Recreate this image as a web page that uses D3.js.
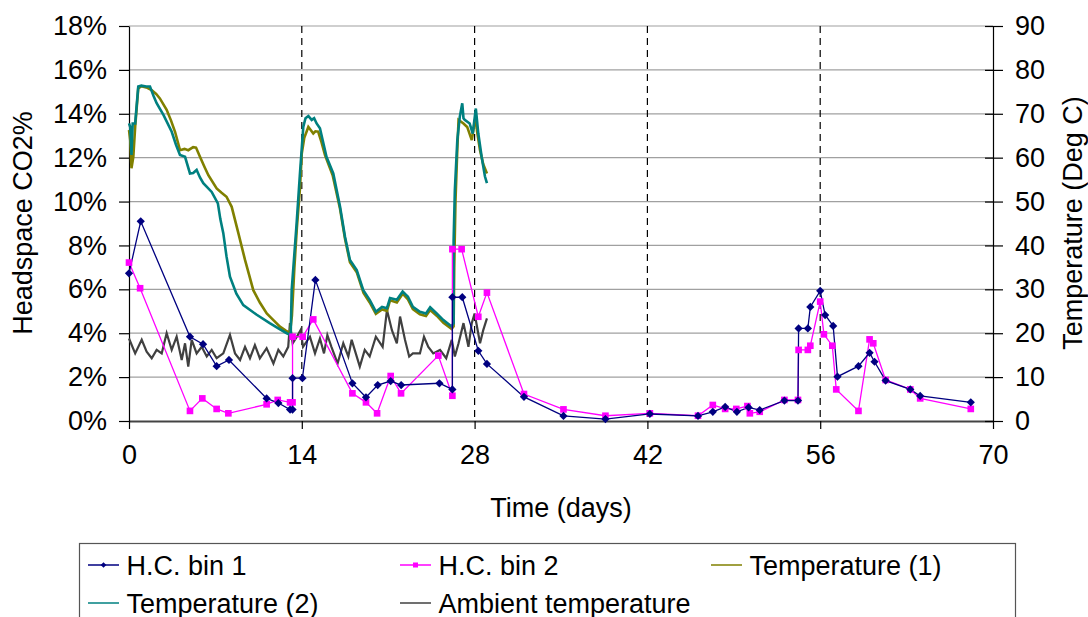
<!DOCTYPE html>
<html>
<head>
<meta charset="utf-8">
<script src="https://cdn.jsdelivr.net/npm/d3@7"></script>
<style>
  body { margin: 0; background: #fff; }
  svg { display: block; font-family: "Liberation Sans", Arial, sans-serif; }
</style>
</head>
<body>
<div id="chart"></div>
<script>
// H.C. bins: [day, headspace CO2 %]
const bin1 = [[0,6.73],[0.95,9.1],[4.94,3.84],[6.0,3.5],[7.1,2.5],[8.1,2.78],[11.15,1.03],[12.1,0.82],[13.05,0.52],[13.25,0.52],[13.25,1.95],[14.05,1.95],[15.1,6.43],[18.1,1.72],[19.2,1.08],[20.15,1.64],[21.2,1.82],[22.05,1.64],[25.15,1.72],[26.2,1.44],[26.2,5.64],[27.0,5.64],[28.3,3.2],[29.0,2.6],[32.0,1.1],[35.2,0.23],[38.6,0.09],[42.2,0.32],[46.1,0.23],[47.3,0.42],[48.3,0.64],[49.25,0.42],[50.2,0.62],[51.1,0.5],[53.1,0.93],[54.2,0.93],[54.25,4.22],[55.0,4.22],[55.2,5.2],[56.0,5.93],[56.4,4.83],[57.05,4.33],[57.4,2.02],[59.1,2.5],[60.0,3.11],[60.4,2.7],[61.3,1.84],[63.3,1.44],[64.1,1.14],[68.2,0.85]];
const bin2 = [[0,7.22],[0.9,6.05],[4.94,0.46],[5.94,1.03],[7.1,0.55],[8.05,0.35],[11.15,0.76],[12.05,0.96],[13.05,0.85],[13.25,0.85],[13.25,3.84],[14.07,3.84],[14.93,4.63],[18.1,1.26],[19.2,0.85],[20.1,0.35],[21.2,2.05],[22.04,1.26],[25.06,2.98],[26.2,1.15],[26.2,7.83],[26.95,7.83],[28.3,4.75],[29.0,5.85],[32.0,1.23],[35.2,0.53],[38.6,0.24],[42.2,0.35],[46.1,0.24],[47.3,0.73],[48.3,0.55],[49.2,0.55],[50.1,0.68],[50.3,0.35],[51.1,0.42],[53.1,0.96],[54.2,0.96],[54.25,3.24],[55.0,3.24],[55.2,3.43],[56.0,5.44],[56.3,3.95],[56.98,3.43],[57.3,1.44],[59.1,0.46],[60.0,3.72],[60.3,3.54],[61.3,1.87],[63.3,1.44],[64.1,1.03],[68.2,0.55]];

// temperatures: [day, deg C]
const temp1 = [[0,66.3],[0.1,64],[0.2,57.6],[0.35,60.2],[0.5,67],[0.75,75.8],[1.0,76.3],[1.4,76],[1.83,75.4],[2.2,74.5],[2.5,73.5],[3.05,70.9],[3.4,68.5],[3.73,65.9],[4.13,61.7],[4.5,62],[4.8,61.7],[5.2,62.4],[5.43,62.3],[5.75,60.2],[6.1,58],[6.43,56.0],[7.1,53.0],[7.5,52],[7.9,51.1],[8.32,48.8],[8.86,42.8],[9.4,36.7],[10.07,29.8],[10.6,27],[11.16,24.5],[11.7,23],[12.23,21.5],[12.7,20.6],[13.04,20.0],[13.2,24],[13.4,35],[13.6,44],[13.85,53],[14.0,61],[14.2,64.5],[14.53,67],[14.75,66.2],[14.93,65.5],[15.1,66],[15.33,65.9],[15.6,63.5],[15.88,60.6],[16.5,56],[17.1,48.3],[17.5,41.5],[17.9,36.2],[18.45,33.9],[19.0,29.2],[19.5,27],[20.0,24.4],[20.5,25.4],[20.9,25.1],[21.15,27.5],[21.7,27],[22.17,29],[22.6,27.7],[23.0,25.5],[23.57,24.3],[24.06,23.9],[24.4,25.3],[24.93,24],[25.47,22.4],[26.14,21.0],[26.3,21.6],[26.35,35],[26.45,50],[26.6,62],[26.7,68.6],[27.1,67.8],[27.4,67],[27.77,64.0],[28.0,68],[28.1,69.5],[28.2,66],[28.44,61.7],[28.7,58.5],[29.0,56.4]];
const temp2 = [[0,67.8],[0.1,67],[0.2,60.6],[0.3,67.8],[0.5,67.8],[0.75,76.2],[1.0,76.4],[1.4,76.2],[1.7,76.2],[2.0,74],[2.24,72.4],[2.8,69.7],[3.46,65.9],[3.8,63],[4.13,60.6],[4.54,60.2],[4.94,56.4],[5.2,56.5],[5.48,57.2],[5.75,55.5],[6.02,54.2],[6.7,52.2],[7.2,49.6],[7.4,46],[7.64,42.8],[7.9,37.5],[8.18,32.9],[8.7,29],[9.26,26.4],[10.35,24.2],[11.4,22.3],[12.1,21.1],[12.78,20.0],[13.1,19.6],[13.18,29.8],[13.58,45.0],[13.85,56.4],[14.12,67.0],[14.3,69],[14.53,69.5],[14.8,68.6],[15.0,69],[15.2,67.8],[15.47,66.7],[16.0,60.2],[16.55,56.4],[17.1,48.8],[17.5,42],[17.9,36.7],[18.45,34.4],[18.98,29.8],[19.5,27.6],[20.0,24.9],[20.5,26.0],[20.9,25.7],[21.15,28.0],[21.7,27.6],[22.17,29.5],[22.6,28.3],[23.0,26.0],[23.57,24.9],[24.06,24.5],[24.4,25.9],[24.93,24.5],[25.47,23.0],[26.14,21.5],[26.3,22.3],[26.3,41.2],[26.4,52.6],[26.6,64.0],[26.8,69.3],[27.0,72.4],[27.1,69],[27.2,68.6],[27.6,67.8],[27.85,65.5],[28.1,71.2],[28.3,65.5],[28.57,60.2],[28.84,55.7],[29.0,54.2]];
const ambient = [[0,18.8],[0.5,15.4],[1.03,18.5],[1.43,15.8],[1.84,14.3],[2.24,16.2],[2.65,15.4],[3.05,20.0],[3.46,16.2],[3.86,19.2],[4.27,13.9],[4.54,17.7],[4.8,12.4],[5.08,18.5],[5.48,15.4],[5.89,16.9],[6.3,14.7],[6.7,16.2],[7.1,14.3],[7.64,15.4],[8.18,19.6],[8.59,15.4],[9.0,13.9],[9.4,16.9],[9.8,14.3],[10.2,17.3],[10.6,14.3],[11.15,16.6],[11.7,13.1],[12.1,16.2],[12.5,14.7],[12.9,16.9],[13.04,22.3],[13.26,17.7],[13.6,19.2],[13.9,20.7],[14.1,16.9],[14.66,19.2],[15.07,15.4],[15.47,18.8],[15.8,15.4],[16.07,19.6],[16.4,16.9],[16.9,13.1],[17.36,17.7],[17.77,14.7],[18.04,18.5],[18.7,12.4],[19.1,16.2],[19.5,14.7],[20.0,19.2],[20.55,16.9],[20.9,25.3],[21.3,20.7],[21.7,17.7],[21.96,23.8],[22.36,18.5],[22.7,14.7],[23.0,15.4],[23.57,15.4],[23.9,19.2],[24.25,16.9],[24.65,15.4],[25.2,16.2],[25.7,14.3],[26.15,18.5],[26.4,14.7],[26.7,17.7],[27.1,22.3],[27.5,16.9],[27.77,22.3],[28.0,24.5],[28.44,17.7],[28.7,20.7],[29.0,23.4]];

const xTicks = [0, 14, 28, 42, 56, 70];
const dashedDays = [14, 28, 42, 56];
const co2Ticks = [0, 2, 4, 6, 8, 10, 12, 14, 16, 18];
const tempTicks = [0, 10, 20, 30, 40, 50, 60, 70, 80, 90];

const W = 1088, H = 617;
const plotLeft = 129, plotRight = 993, plotTop = 26, plotBottom = 421;
const font = 27;

const svg = d3.select("#chart").append("svg")
  .attr("width", W)
  .attr("height", H);

const x = d3.scaleLinear().domain([0, 70]).range([plotLeft, plotRight]);
const y = d3.scaleLinear().domain([0, 18]).range([plotBottom, plotTop]);
const yT = d3.scaleLinear().domain([0, 90]).range([plotBottom, plotTop]);

// gridlines
svg.append("g")
  .selectAll("line")
  .data(co2Ticks.slice(1))
  .join("line")
  .attr("x1", plotLeft).attr("x2", plotRight)
  .attr("y1", d => y(d)).attr("y2", d => y(d))
  .attr("stroke", "#a0a0a0")
  .attr("stroke-width", 1.2);

// dashed day markers
svg.append("g")
  .selectAll("line")
  .data(dashedDays)
  .join("line")
  .attr("x1", d => x(d)).attr("x2", d => x(d))
  .attr("y1", plotTop).attr("y2", plotBottom)
  .attr("stroke", "#000")
  .attr("stroke-width", 1.2)
  .attr("stroke-dasharray", "7,5");

// axes
const xAxis = svg.append("g")
  .attr("transform", `translate(0,${plotBottom})`)
  .call(d3.axisBottom(x).tickValues(xTicks).tickSize(8).tickPadding(16).tickSizeOuter(0));
const yAxis = svg.append("g")
  .attr("transform", `translate(${plotLeft},0)`)
  .call(d3.axisLeft(y).tickValues(co2Ticks).tickFormat(d => d + "%").tickSize(10).tickPadding(12).tickSizeOuter(0));
const yAxisR = svg.append("g")
  .attr("transform", `translate(${plotRight},0)`)
  .call(d3.axisRight(yT).tickValues(tempTicks).tickSize(10).tickPadding(12).tickSizeOuter(0));
yAxisR.selectAll(".tick line").attr("x1", -8);

[xAxis, yAxis, yAxisR].forEach(g => {
  g.selectAll("text").attr("font-size", font).attr("fill", "#000")
    .attr("font-family", "Liberation Sans, Arial, sans-serif");
  g.selectAll("line, path").attr("stroke", "#000").attr("stroke-width", 1.2);
});
xAxis.select(".domain").attr("stroke", "#444").attr("stroke-width", 2);

// titles
svg.append("text")
  .attr("x", 561).attr("y", 517)
  .attr("text-anchor", "middle")
  .attr("font-size", font)
  .text("Time (days)");
svg.append("text")
  .attr("transform", "translate(32,223) rotate(-90)")
  .attr("text-anchor", "middle")
  .attr("font-size", font)
  .text("Headspace CO2%");
svg.append("text")
  .attr("transform", "translate(1082,223) rotate(-90)")
  .attr("text-anchor", "middle")
  .attr("font-size", font)
  .text("Temperature (Deg C)");

// lines
const lineL = d3.line().x(d => x(d[0])).y(d => y(d[1]));
const lineT = d3.line().x(d => x(d[0])).y(d => yT(d[1]));

const plot = svg.append("g");
plot.append("path").datum(ambient).attr("d", lineT)
  .attr("fill", "none").attr("stroke", "#404040").attr("stroke-width", 2.2);
plot.append("path").datum(temp1).attr("d", lineT)
  .attr("fill", "none").attr("stroke", "#808000").attr("stroke-width", 2.6);
plot.append("path").datum(temp2).attr("d", lineT)
  .attr("fill", "none").attr("stroke", "#008080").attr("stroke-width", 2.6);

plot.append("path").datum(bin2).attr("d", lineL)
  .attr("fill", "none").attr("stroke", "#ff00ff").attr("stroke-width", 1.3);
plot.append("path").datum(bin1).attr("d", lineL)
  .attr("fill", "none").attr("stroke", "#000080").attr("stroke-width", 1.3);

const square = d3.symbol().type(d3.symbolSquare);

plot.append("g")
  .selectAll("path")
  .data(bin2)
  .join("path")
  .attr("d", square.size(44)())
  .attr("transform", d => `translate(${x(d[0])},${y(d[1])})`)
  .attr("fill", "#ff00ff");
plot.append("g")
  .selectAll("path")
  .data(bin1)
  .join("path")
  .attr("d", square.size(34)())
  .attr("transform", d => `translate(${x(d[0])},${y(d[1])}) rotate(45)`)
  .attr("fill", "#000080");

// legend
const legend = svg.append("g");
legend.append("rect")
  .attr("x", 79.5).attr("y", 543.5)
  .attr("width", 936).attr("height", 100)
  .attr("fill", "#fff").attr("stroke", "#555").attr("stroke-width", 1.2);

const legendItems = [
  { name: "H.C. bin 1", color: "#000080", mark: "diamond", lx: 88, ly: 565 },
  { name: "H.C. bin 2", color: "#ff00ff", mark: "square", lx: 400, ly: 565 },
  { name: "Temperature (1)", color: "#808000", mark: null, lx: 711, ly: 565 },
  { name: "Temperature (2)", color: "#008080", mark: null, lx: 88, ly: 603 },
  { name: "Ambient temperature", color: "#404040", mark: null, lx: 400, ly: 603 }
];

const li = legend.selectAll("g.item")
  .data(legendItems)
  .join("g")
  .attr("class", "item")
  .attr("transform", d => `translate(${d.lx},${d.ly})`);
li.append("line")
  .attr("x1", 0).attr("x2", 31)
  .attr("stroke", d => d.color).attr("stroke-width", 1.5);
li.filter(d => d.mark === "diamond").append("path")
  .attr("d", square.size(16)())
  .attr("transform", "translate(15.5,0) rotate(45)")
  .attr("fill", d => d.color);
li.filter(d => d.mark === "square").append("path")
  .attr("d", square.size(25)())
  .attr("transform", "translate(15.5,0)")
  .attr("fill", d => d.color);
li.append("text")
  .attr("x", 38.5).attr("y", 9.5)
  .attr("font-size", font)
  .text(d => d.name);
</script>
</body>
</html>
